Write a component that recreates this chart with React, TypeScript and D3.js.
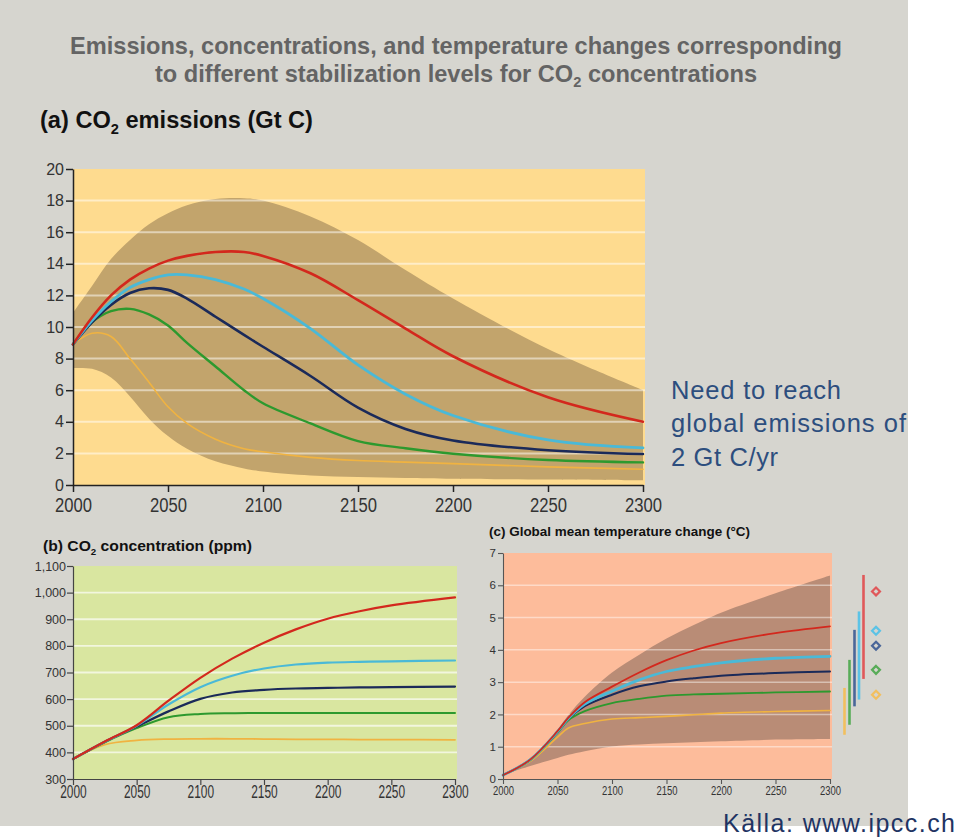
import React, { useEffect, useRef } from 'react';
import * as d3 from 'd3';

// ---------- DATA ----------
const yearTicks = [2000, 2050, 2100, 2150, 2200, 2250, 2300];
const seriesNames = ['1000 ppm', '750 ppm', '650 ppm', '550 ppm', '450 ppm'];

// (a) CO2 emissions (Gt C)
const yearsA = [2000, 2010, 2020, 2030, 2040, 2050, 2060, 2075, 2090, 2100, 2125, 2150, 2175, 2200, 2250, 2300];
const emisRed = [8.9, 10.6, 12.0, 13.0, 13.7, 14.2, 14.5, 14.75, 14.75, 14.5, 13.4, 11.7, 9.9, 8.15, 5.55, 4.0];
const emisCyan = [8.9, 10.4, 11.6, 12.5, 13.0, 13.3, 13.3, 13.0, 12.4, 11.8, 9.9, 7.6, 5.75, 4.4, 2.85, 2.35];
const emisNavy = [8.9, 10.3, 11.4, 12.15, 12.45, 12.35, 11.8, 10.65, 9.5, 8.75, 6.9, 4.9, 3.55, 2.82, 2.2, 1.96];
const emisGreen = [8.9, 10.3, 11.0, 11.15, 10.8, 10.1, 9.0, 7.5, 6.0, 5.17, 3.9, 2.78, 2.33, 1.98, 1.58, 1.43];
const emisOrange = [8.9, 9.6, 9.4, 8.0, 6.5, 4.95, 3.9, 2.9, 2.3, 2.1, 1.75, 1.55, 1.45, 1.35, 1.15, 1.0];
const emisBandHigh = [10.9, 12.6, 14.3, 15.5, 16.5, 17.2, 17.7, 18.1, 18.15, 18.0, 17.0, 15.5, 13.6, 11.8, 8.6, 6.0];
const emisBandLow = [7.4, 7.35, 6.8, 5.6, 4.2, 3.1, 2.3, 1.5, 1.05, 0.85, 0.6, 0.5, 0.45, 0.4, 0.35, 0.3];
const emisTicks = [0, 2, 4, 6, 8, 10, 12, 14, 16, 18, 20];

// (b) CO2 concentration (ppm)
const yearsB = [2000, 2025, 2050, 2075, 2100, 2125, 2150, 2175, 2200, 2225, 2250, 2300];
const concRed = [375, 441, 502, 594, 680, 752, 812, 862, 902, 930, 952, 982];
const concCyan = [375, 440, 500, 580, 645, 688, 715, 730, 737, 740, 742, 745];
const concNavy = [375, 440, 497, 554, 601, 625, 635, 640, 642, 644, 645, 647];
const concGreen = [375, 438, 491, 532, 544, 547, 548, 548, 548, 548, 548, 548];
const concOrange = [375, 429, 445, 450, 451, 451, 450, 449, 449, 448, 448, 447];
const concTicks = [300, 400, 500, 600, 700, 800, 900, 1000, 1100];

// (c) Global mean temperature change (°C)
const yearsC = [2000, 2025, 2050, 2060, 2075, 2100, 2125, 2150, 2175, 2200, 2250, 2300];
const tempRed = [0.12, 0.6, 1.48, 1.9, 2.38, 2.86, 3.3, 3.68, 3.98, 4.21, 4.52, 4.73];
const tempCyan = [0.12, 0.6, 1.47, 1.88, 2.32, 2.72, 3.07, 3.33, 3.48, 3.6, 3.74, 3.8];
const tempNavy = [0.12, 0.6, 1.46, 1.87, 2.26, 2.61, 2.87, 3.02, 3.12, 3.2, 3.28, 3.33];
const tempGreen = [0.12, 0.58, 1.43, 1.82, 2.1, 2.35, 2.48, 2.58, 2.62, 2.64, 2.68, 2.71];
const tempOrange = [0.12, 0.55, 1.3, 1.58, 1.72, 1.86, 1.9, 1.94, 1.99, 2.04, 2.09, 2.12];
const tempBandHigh = [0.12, 0.62, 1.52, 1.98, 2.55, 3.3, 3.85, 4.35, 4.77, 5.15, 5.75, 6.3];
const tempBandLow = [0.12, 0.4, 0.65, 0.75, 0.86, 1.01, 1.07, 1.11, 1.14, 1.17, 1.22, 1.24];
const tempTicks = [0, 1, 2, 3, 4, 5, 6, 7];
// equilibrium ranges (red, cyan, navy, green, orange)
const eqLow = [3.1, 2.46, 2.25, 1.68, 1.37];
const eqHigh = [6.32, 5.19, 4.62, 3.69, 2.82];
const eqBest = [5.81, 4.59, 4.13, 3.38, 2.61];

// ---------- STYLE ----------
const lineColors = ['#d3281d', '#4ab9d7', '#1b2a59', '#2d992e', '#f0b341'];
const barColors = ['#e0585a', '#5cc3e6', '#4a6699', '#58ac58', '#f2bf5e'];
const FONT = '"Liberation Sans", Arial, Helvetica, sans-serif';

export default function App() {
  const ref = useRef<SVGSVGElement>(null);

  useEffect(() => {
    const svg = d3.select(ref.current);
    svg.selectAll('*').remove();
    svg.append('rect').attr('width', 960).attr('height', 840).attr('fill', '#ffffff');
    svg.append('rect').attr('width', 908).attr('height', 826).attr('fill', '#d6d5cf');

    const addText = (x: number, y: number, parts: [string, boolean][], o: any) => {
      const t = svg.append('text').attr('x', x).attr('y', y)
        .attr('font-family', FONT).attr('font-size', o.size).attr('font-weight', o.weight || 'normal')
        .attr('fill', o.fill).attr('text-anchor', o.anchor || 'start');
      if (o.len) t.attr('textLength', o.len).attr('lengthAdjust', o.adjust || 'spacingAndGlyphs');
      parts.forEach(([s, sub], i) => {
        const ts = t.append('tspan').text(s);
        if (sub) ts.attr('dy', o.size * 0.25).attr('font-size', o.size * 0.62);
        else if (i > 0 && parts[i - 1][1]) ts.attr('dy', -o.size * 0.25);
      });
      return t;
    };

    // titles
    addText(456, 54, [['Emissions, concentrations, and temperature changes corresponding', false]],
      { size: 24, weight: 'bold', fill: '#646464', anchor: 'middle', len: 772 });
    addText(456, 81.5, [['to different stabilization levels for CO', false], ['2', true], [' concentrations', false]],
      { size: 23.6, weight: 'bold', fill: '#646464', anchor: 'middle' });
    addText(40, 128, [['(a) CO', false], ['2', true], [' emissions (Gt C)', false]],
      { size: 23, weight: 'bold', fill: '#111', len: 273 });
    addText(43, 551, [['(b) CO', false], ['2', true], [' concentration (ppm)', false]],
      { size: 15.5, weight: 'bold', fill: '#111', len: 209 });
    addText(489, 535.5, [['(c) Global mean temperature change (°C)', false]],
      { size: 13.5, weight: 'bold', fill: '#111', len: 261 });

    const curve = d3.curveCatmullRom.alpha(0.5);

    const drawPanel = (cfg: any) => {
      const x = d3.scaleLinear().domain([2000, 2300]).range([cfg.left, cfg.right]);
      const y = d3.scaleLinear().domain(cfg.yDomain).range([cfg.bottom, cfg.top]);
      const g = svg.append('g');
      g.append('rect').attr('x', cfg.left).attr('y', cfg.top)
        .attr('width', cfg.right - cfg.left + 2).attr('height', cfg.bottom - cfg.top).attr('fill', cfg.bg);
      if (cfg.bandHigh) {
        const area = d3.area<number>().x((_, i) => x(cfg.years[i])).y0((_, i) => y(cfg.bandLow[i]))
          .y1((d) => y(d)).curve(curve);
        g.append('path').attr('d', area(cfg.bandHigh)).attr('fill', cfg.bandColor);
      }
      g.selectAll('line.grid').data(cfg.grid).join('line').attr('class', 'grid')
        .attr('x1', cfg.left + 1).attr('x2', cfg.right + 2).attr('y1', (d: any) => y(d)).attr('y2', (d: any) => y(d))
        .attr('stroke', '#ffffff').attr('stroke-opacity', cfg.gridOpacity).attr('stroke-width', cfg.gridWidth);
      const line = d3.line<number>().x((_, i) => x(cfg.years[i])).y((d) => y(d)).curve(curve);
      const order = [4, 3, 2, 1, 0];
      order.forEach((i) => {
        g.append('path').attr('d', line(cfg.series[i])).attr('fill', 'none')
          .attr('stroke', lineColors[i]).attr('stroke-width', cfg.lw[i]).attr('stroke-linecap', 'round');
      });
      const yAx = g.append('g').attr('transform', `translate(${cfg.left},0)`)
        .call(d3.axisLeft(y).tickValues(cfg.yTicks).tickSize(cfg.tick).tickSizeOuter(0).tickPadding(cfg.yPad)
          .tickFormat(cfg.yFmt));
      const xAx = g.append('g').attr('transform', `translate(0,${cfg.bottom})`)
        .call(d3.axisBottom(x).tickValues(yearTicks).tickSize(cfg.tick).tickSizeOuter(0).tickPadding(cfg.xPad)
          .tickFormat(d3.format('d')));
      [yAx, xAx].forEach((a) => {
        a.select('.domain').attr('stroke', cfg.axisColor).attr('stroke-width', cfg.axisWidth);
        a.selectAll('.tick line').attr('stroke', cfg.axisColor).attr('stroke-width', cfg.axisWidth);
        a.selectAll('text').attr('font-family', FONT).attr('fill', '#333');
      });
      yAx.selectAll('text').attr('font-size', cfg.yFont);
      xAx.selectAll('text').attr('font-size', cfg.xFont)
        .attr('textLength', cfg.xLen).attr('lengthAdjust', 'spacingAndGlyphs');
      return { x, y, g };
    };

    // (a)
    drawPanel({
      left: 73, right: 643, top: 169, bottom: 485, yDomain: [0, 20], bg: '#fedb8f',
      years: yearsA, series: [emisRed, emisCyan, emisNavy, emisGreen, emisOrange],
      bandHigh: emisBandHigh, bandLow: emisBandLow, bandColor: '#c2a46c',
      grid: emisTicks.slice(1, -1), gridOpacity: 0.5, gridWidth: 2,
      lw: [2.6, 2.8, 2.6, 2.4, 1.6], yTicks: emisTicks, yFmt: d3.format('d'),
      tick: 7, yPad: 2, xPad: 6, axisColor: '#222', axisWidth: 1.5, yFont: 16, xFont: 20, xLen: 37,
    });

    // (b)
    drawPanel({
      left: 73, right: 455, top: 566, bottom: 779, yDomain: [300, 1100], bg: '#d9e6a0',
      years: yearsB, series: [concRed, concCyan, concNavy, concGreen, concOrange],
      grid: concTicks.slice(1, -1), gridOpacity: 0.65, gridWidth: 1.8,
      lw: [2.2, 2.2, 2.2, 2.0, 1.8], yTicks: concTicks, yFmt: d3.format(','),
      tick: 6, yPad: 1, xPad: 1, axisColor: '#444', axisWidth: 1.2, yFont: 12.5, xFont: 17.5, xLen: 26.5,
    });

    // (c)
    const c = drawPanel({
      left: 503, right: 830, top: 553, bottom: 779, yDomain: [0, 7], bg: '#fdbc9b',
      years: yearsC, series: [tempRed, tempCyan, tempNavy, tempGreen, tempOrange],
      bandHigh: tempBandHigh, bandLow: tempBandLow, bandColor: '#b98c76',
      grid: tempTicks.slice(1, -1), gridOpacity: 0.45, gridWidth: 1.5,
      lw: [1.8, 2.8, 2.0, 1.8, 1.6], yTicks: tempTicks, yFmt: d3.format('d'),
      tick: 5, yPad: 2, xPad: 2, axisColor: '#555', axisWidth: 1.1, yFont: 11.5, xFont: 13, xLen: 21,
    });

    // equilibrium ranges beside (c)
    const barX = [863.5, 859, 854.5, 849.5, 844.5];
    const eq = svg.append('g');
    eqLow.forEach((lo, i) => {
      eq.append('line').attr('x1', barX[i]).attr('x2', barX[i])
        .attr('y1', c.y(lo)).attr('y2', c.y(eqHigh[i]))
        .attr('stroke', barColors[i]).attr('stroke-width', 2.6);
    });
    const diamond = d3.symbol().type(d3.symbolDiamond2).size(40);
    eqBest.forEach((v, i) => {
      eq.append('path').attr('d', diamond()).attr('transform', `translate(876,${c.y(v)})`)
        .attr('fill', 'none').attr('stroke', barColors[i]).attr('stroke-width', 2.2);
    });

    // annotations
    const note = svg.append('text').attr('font-family', FONT).attr('font-size', 25.5).attr('fill', '#2d4e7e');
    [['Need to reach', 399, 170], ['global emissions of', 432, 235], ['2 Gt C/yr', 466, 107]].forEach(([s, yy, len]) => {
      note.append('tspan').attr('x', 671).attr('y', yy as number).attr('textLength', len as number)
        .attr('lengthAdjust', 'spacing').text(s as string);
    });
    svg.append('text').attr('x', 723).attr('y', 832).attr('font-family', FONT).attr('font-size', 25)
      .attr('fill', '#1f3463').attr('textLength', 232).attr('lengthAdjust', 'spacing').text('Källa: www.ipcc.ch');
  }, []);

  return (
    <svg ref={ref} width={960} height={840} style={{ position: 'absolute', left: 0, top: 0 }}
      aria-label={seriesNames.join(', ')} />
  );
}
